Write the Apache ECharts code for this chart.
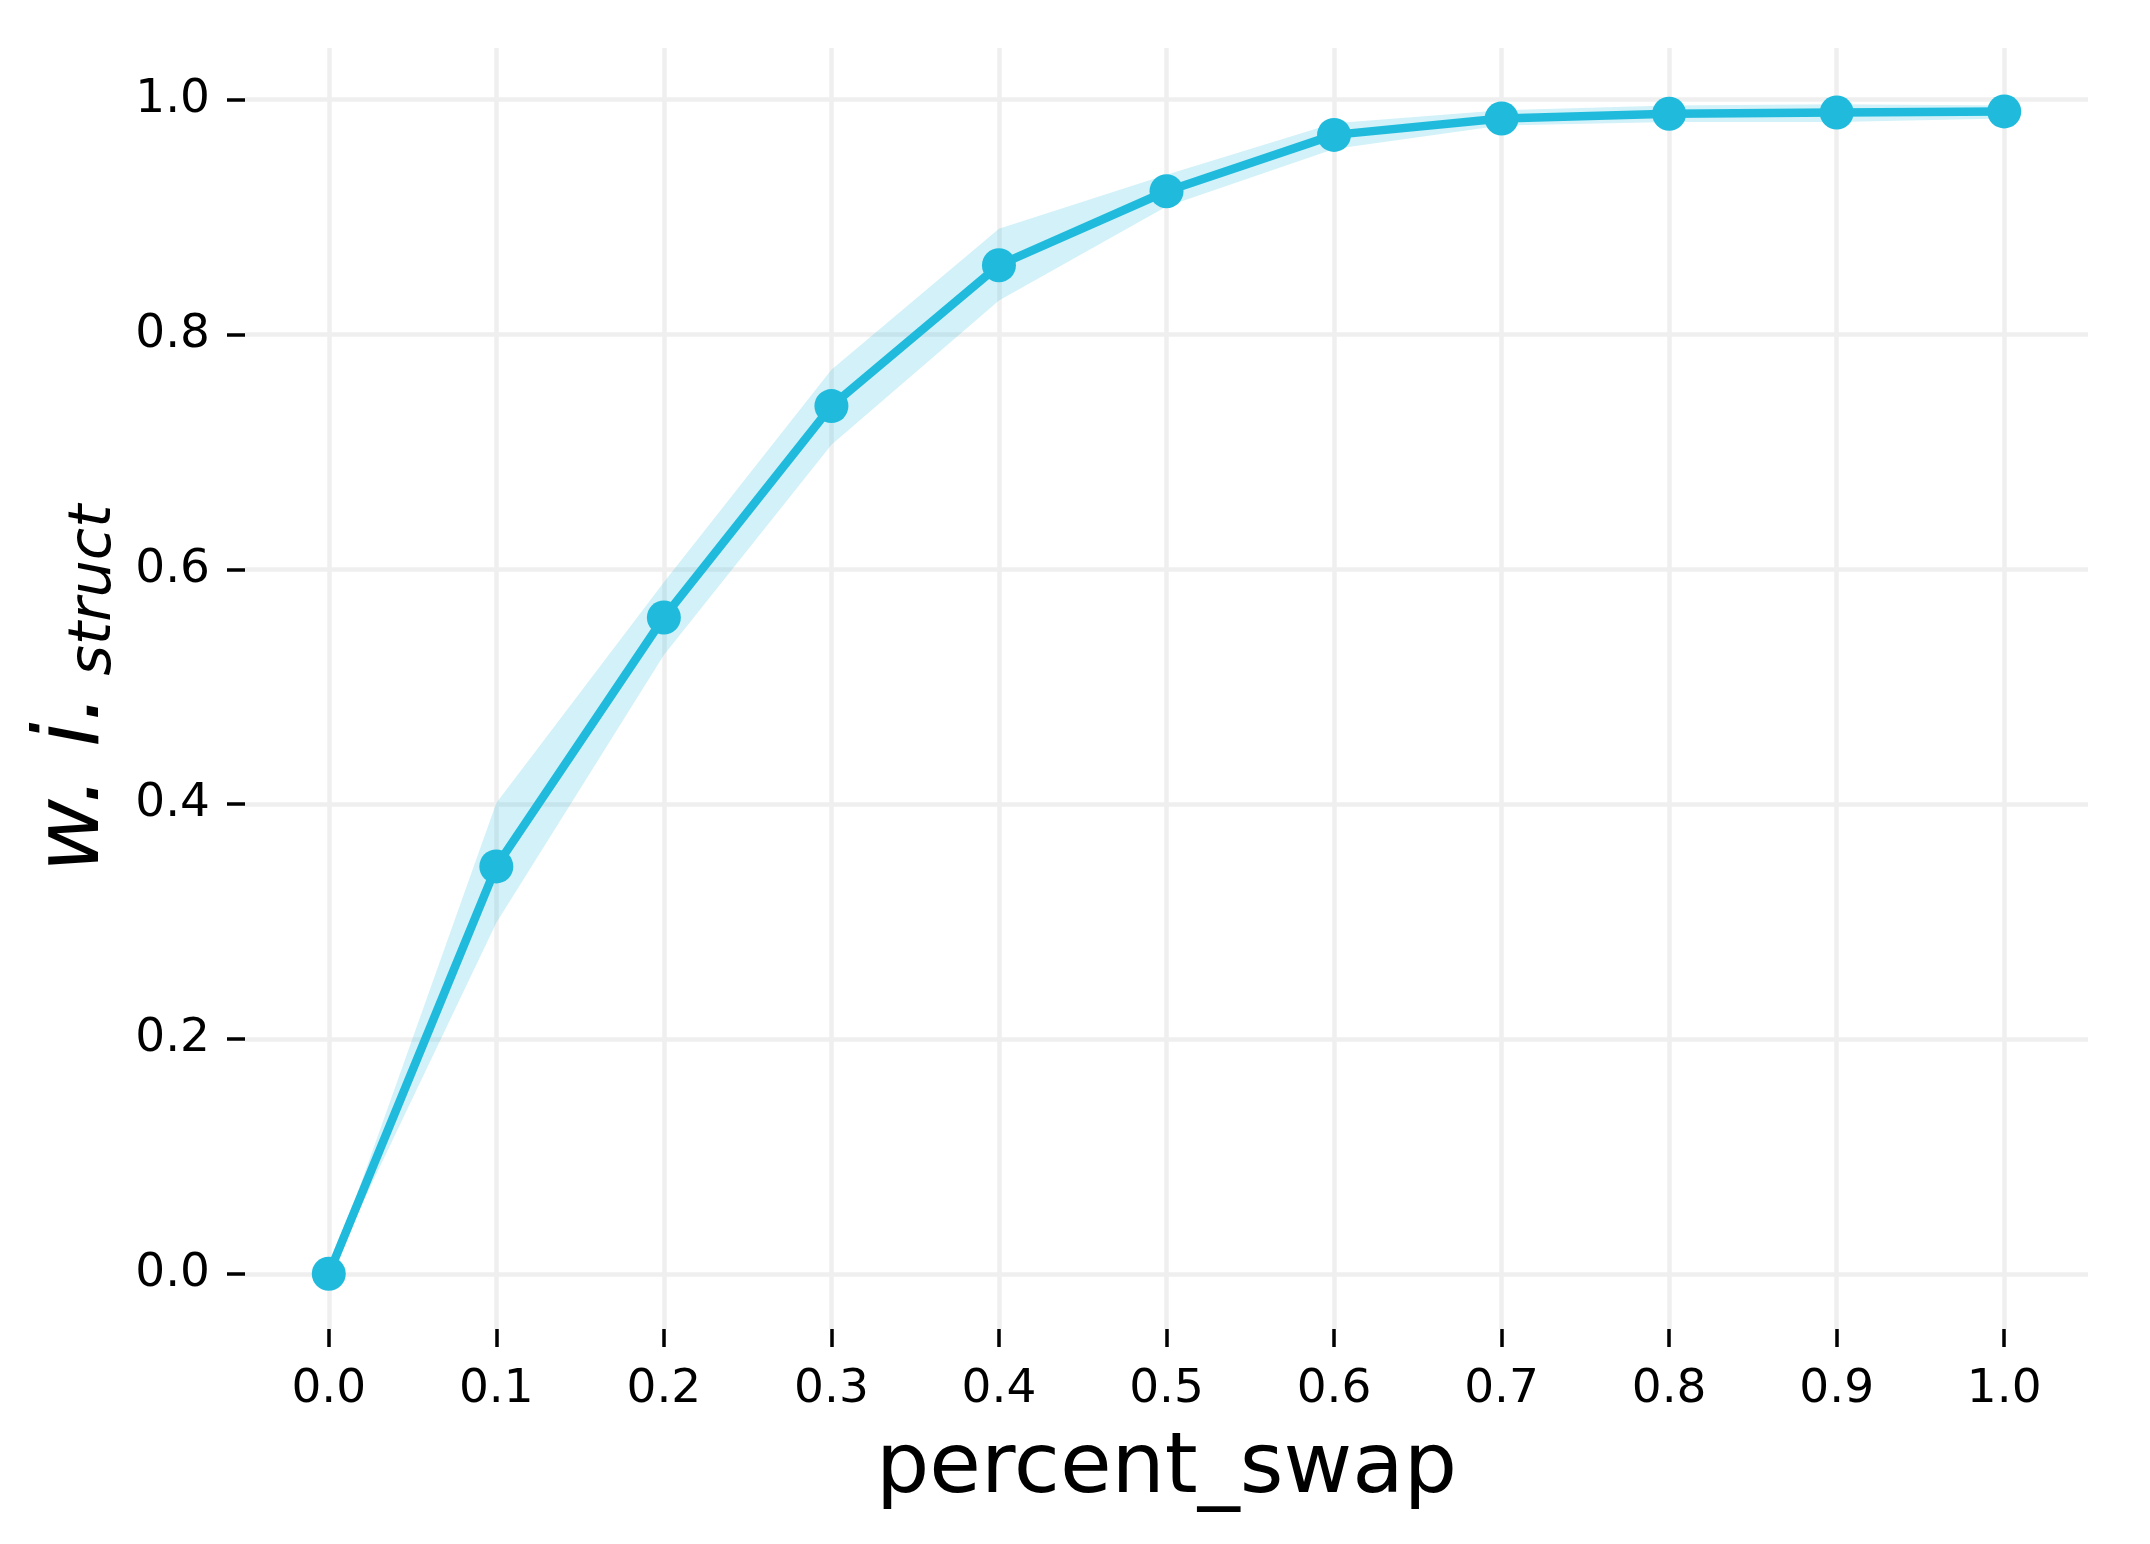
<!DOCTYPE html>
<html>
<head>
<meta charset="utf-8">
<script src="https://cdn.jsdelivr.net/npm/echarts@6/dist/echarts.min.js"></script>
<style>
html,body{margin:0;padding:0;background:#fff;}
#chart{width:2150px;height:1544px;}
</style>
</head>
<body>
<div id="chart"></div>
<script>
// ---- data ----
const percentSwap = [0.0, 0.1, 0.2, 0.3, 0.4, 0.5, 0.6, 0.7, 0.8, 0.9, 1.0];
const meanValues  = [0.000, 0.347, 0.559, 0.739, 0.859, 0.922, 0.970, 0.984, 0.988, 0.989, 0.990];
const upperValues = [0.000, 0.401, 0.589, 0.770, 0.890, 0.936, 0.980, 0.991, 0.995, 0.996, 0.995];
const lowerValues = [0.000, 0.299, 0.527, 0.706, 0.829, 0.909, 0.958, 0.978, 0.981, 0.981, 0.984];
const xTicks = [0.0, 0.1, 0.2, 0.3, 0.4, 0.5, 0.6, 0.7, 0.8, 0.9, 1.0];
const yTicks = [0.0, 0.2, 0.4, 0.6, 0.8, 1.0];

const FONT = 'DejaVu Sans';
const LINE = '#20bbdc';
const BAND = 'rgba(31,187,220,0.2)';
const GRID = '#efefef';

const chart = echarts.init(document.getElementById('chart'), null, {renderer: 'canvas'});

const bandData = percentSwap.map((x, i) => [x, lowerValues[i], upperValues[i]]);
const meanSeries = percentSwap.map((x, i) => [x, meanValues[i]]);

function renderBand(params, api) {
  if (params.dataIndex !== 0) return null;
  const n = bandData.length;
  const top = [], bottom = [];
  for (let i = 0; i < n; i++) {
    top.push(api.coord([bandData[i][0], bandData[i][2]]));
    bottom.push(api.coord([bandData[i][0], bandData[i][1]]));
  }
  const pts = top.concat(bottom.reverse());
  return {
    type: 'polygon',
    shape: {points: pts},
    style: {fill: BAND, stroke: null},
    silent: true
  };
}

chart.setOption({
  backgroundColor: '#ffffff',
  animation: false,
  grid: {left: 245, right: 62, top: 48, bottom: 215, containLabel: false},
  xAxis: {
    type: 'value',
    min: -0.05, max: 1.05,
    name: 'percent_swap',
    nameLocation: 'middle',
    nameGap: 99,
    nameTextStyle: {fontFamily: FONT, fontSize: 84, color: '#000'},
    axisLine: {show: false, onZero: false},
    axisTick: {show: true, length: 18, lineStyle: {color: '#000', width: 3.5}, customValues: xTicks},
    axisLabel: {
      customValues: xTicks, margin: 37,
      fontFamily: FONT, fontSize: 47, color: '#000',
      formatter: v => Number(v).toFixed(1)
    },
    splitLine: {show: true, lineStyle: {color: GRID, width: 4.5}}
  },
  yAxis: {
    type: 'value',
    min: -0.047, max: 1.044,
    name: '{m|w. i.}{s|struct}',
    nameLocation: 'middle',
    nameRotate: 90,
    nameGap: 111,
    nameTextStyle: {
      fontFamily: FONT, color: '#000',
      rich: {
        m: {fontFamily: FONT, fontStyle: 'italic', fontSize: 90, color: '#000', lineHeight: 100, verticalAlign: 'middle'},
        s: {fontFamily: FONT, fontStyle: 'italic', fontSize: 59, color: '#000', lineHeight: 66, verticalAlign: 'bottom', padding: [0, 0, 0, 18]}
      }
    },
    axisLine: {show: false, onZero: false},
    axisTick: {show: true, length: 18, lineStyle: {color: '#000', width: 3.5}, customValues: yTicks},
    axisLabel: {
      customValues: yTicks, margin: 35,
      fontFamily: FONT, fontSize: 47, color: '#000',
      formatter: v => Number(v).toFixed(1)
    },
    splitLine: {show: true, lineStyle: {color: GRID, width: 4.5}}
  },
  series: [
    {
      name: 'band', type: 'custom', data: bandData,
      encode: {x: 0, y: [1, 2]},
      renderItem: renderBand, silent: true, z: 1
    },
    {
      name: 'mean', type: 'line', data: meanSeries,
      symbol: 'circle', symbolSize: 34,
      itemStyle: {color: LINE, borderWidth: 0},
      lineStyle: {color: LINE, width: 8.5},
      z: 3
    }
  ]
});
</script>
</body>
</html>
